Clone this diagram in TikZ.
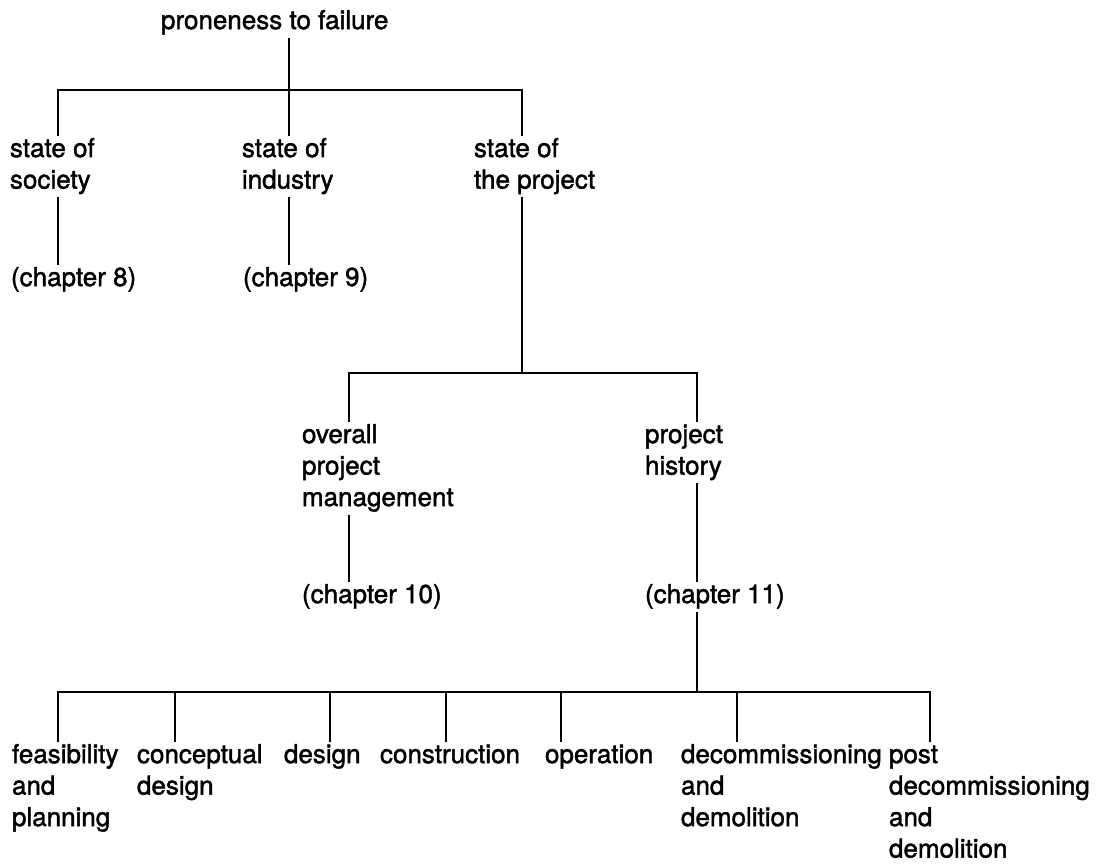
\documentclass[tikz,border=0pt]{standalone}
\usepackage{fontspec}
\setmainfont{TeX Gyre Heros}[FakeBold=1.6]
\begin{document}
\begin{tikzpicture}[x=1pt,y=-1pt,
  lbl/.style={anchor=north west, inner sep=0pt, outer sep=0pt, align=left,
              font=\fontsize{26}{31.5}\selectfont},
  link/.style={line width=2pt, line cap=rect}]
\path[use as bounding box] (0,0) rectangle (1115,863);

% top level
\node[lbl] (root) at (161,7) {\strut proneness to failure\strut};

% second level
\node[lbl] (soc) at (10,135)  {\strut state of\\society\strut};
\node[lbl] (ind) at (242,135) {\strut state of\\industry\strut};
\node[lbl] (prj) at (474,135) {\strut state of\\the project\strut};
\node[lbl] (ch8) at (11,264)  {\strut(chapter 8)\strut};
\node[lbl] (ch9) at (243,264) {\strut(chapter 9)\strut};

% third level
\node[lbl] (opm)  at (302,421) {\strut overall\\project\\management\strut};
\node[lbl] (his)  at (645,421) {\strut project\\history\strut};
\node[lbl] (ch10) at (302,581) {\strut(chapter 10)\strut};
\node[lbl] (ch11) at (645,581) {\strut(chapter 11)\strut};

% project phases
\node[lbl] (fea)  at (12,741)  {\strut feasibility\\and\\planning\strut};
\node[lbl] (con)  at (137,741) {\strut conceptual\\design\strut};
\node[lbl] (des)  at (284,741) {\strut design\strut};
\node[lbl] (cst)  at (380,741) {\strut construction\strut};
\node[lbl] (ope)  at (545,741) {\strut operation\strut};
\node[lbl] (dec)  at (681,741) {\strut decommissioning\\and\\demolition\strut};
\node[lbl] (post) at (889,741) {\strut post\\decommissioning\\and\\demolition\strut};

% junction bars
\coordinate (b1)  at (289,90);
\coordinate (b1l) at (58,90);
\coordinate (b1r) at (522,90);
\coordinate (b2)  at (522,373);
\coordinate (b2l) at (349,373);
\coordinate (b2r) at (697,373);
\coordinate (b3)  at (697,692);
\coordinate (b3l) at (58,692);
\coordinate (b3r) at (930,692);

\begin{scope}[link]
  % proneness to failure -> three states
  \draw (root.south -| b1) -- (b1 |- ind.north);
  \draw (b1l |- soc.north) -- (b1l) -- (b1r) -- (b1r |- prj.north);
  \draw (soc.south -| b1l) -- (ch8.north -| b1l);
  \draw (ind.south -| b1) -- (ch9.north -| b1);
  % state of the project -> management / history
  \draw (prj.south -| b2) -- (b2);
  \draw (b2l |- opm.north) -- (b2l) -- (b2r) -- (b2r |- his.north);
  \draw (opm.south -| b2l) -- (ch10.north -| b2l);
  \draw (his.south -| b2r) -- (ch11.north -| b2r);
  % project history -> phases
  \draw (ch11.south -| b3) -- (b3);
  \draw (b3l |- fea.north) -- (b3l) -- (b3r) -- (b3r |- post.north);
  \foreach \n/\x in {con/175, des/330, cst/446, ope/561, dec/737}
    \draw (\x,692) -- (\n.north -| \x,0);
\end{scope}
\end{tikzpicture}
\end{document}
